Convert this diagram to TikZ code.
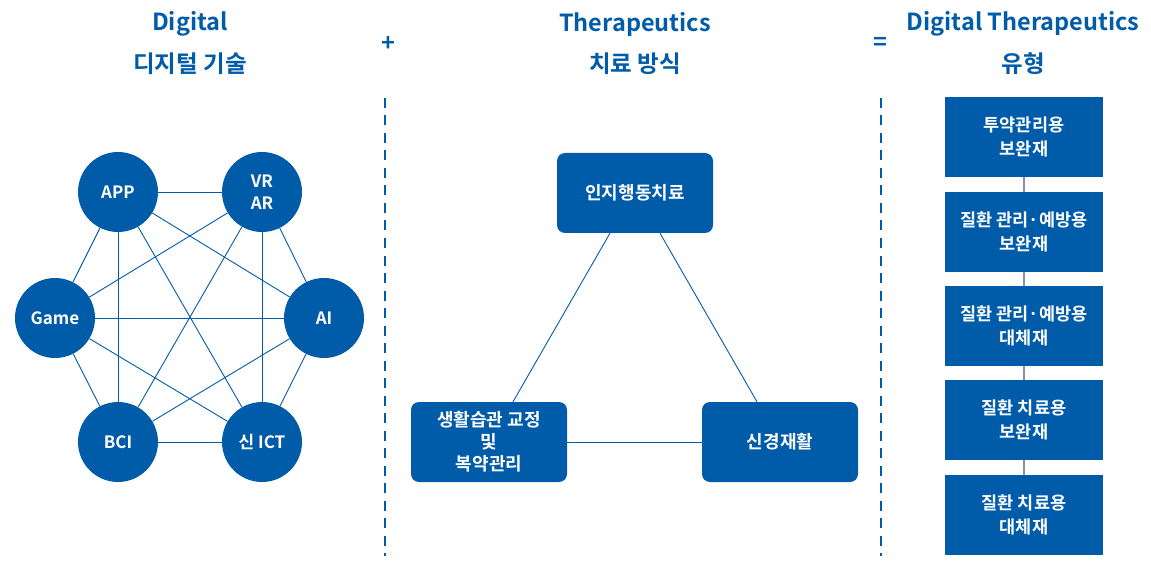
\documentclass[tikz,border=0pt]{standalone}
\usepackage{fontspec}
\setmainfont{Noto Sans CJK KR}[BoldFont={Noto Sans CJK KR Bold}]
\usetikzlibrary{positioning}
\definecolor{dtxblue}{RGB}{0,92,169}
\definecolor{dtxgray}{RGB}{122,150,180}

\begin{document}
\begin{tikzpicture}[x=1pt,y=-1pt,
    tech/.style={circle,fill=dtxblue,text=white,minimum size=80pt,inner sep=0pt,
      align=center,font=\bfseries\fontsize{17}{22}\selectfont},
    cure/.style={rectangle,rounded corners=8pt,fill=dtxblue,text=white,
      minimum width=156pt,minimum height=80pt,align=center,
      font=\bfseries\fontsize{18}{22}\selectfont},
    kind/.style={rectangle,fill=dtxblue,text=white,minimum width=158pt,
      minimum height=80pt,align=center,font=\bfseries\fontsize{17.5}{24}\selectfont},
    head/.style={text=dtxblue,font=\bfseries\fontsize{23.5}{28}\selectfont},
    link/.style={dtxblue,line width=0.9pt},
    sep/.style={dtxblue,line width=2pt,dash pattern=on 10pt off 7.5pt}]
  \useasboundingbox (0,0) rectangle (1151,580);

  % headings
  \node[head] (h1a) at (190,24) {Digital};
  \node[head] (h1b) at (190,64) {디지털 기술};
  \node[head] (h2a) at (635,24) {Therapeutics};
  \node[head] (h2b) at (635,64) {치료 방식};
  \node[head] (h3a) at (1023,24) {Digital Therapeutics};
  \node[head] (h3b) at (1023,64) {유형};
  \node[head] (plus) at (388,44) {+};
  \node[head] (eq) at (880,44) {=};

  % separators
  \coordinate (s1t) at (385,98);  \coordinate (s1b) at (385,556);
  \coordinate (s2t) at (881,98);  \coordinate (s2b) at (881,556);
  \draw[sep] (s1t) -- (s1b);
  \draw[sep] (s2t) -- (s2b);

  % digital technologies
  \node[tech] (app)  at (118,192) {APP};
  \node[tech] (vr)   at (262,192) {VR\\AR};
  \node[tech] (game) at (55,318)  {Game};
  \node[tech] (ai)   at (324,318) {AI};
  \node[tech] (bci)  at (118,442) {BCI};
  \node[tech] (ict)  at (262,442) {신 ICT};
  \foreach \a/\b in {app/vr,app/game,app/ai,app/bci,app/ict,
                     vr/game,vr/ai,vr/bci,vr/ict,
                     game/ai,game/bci,game/ict,
                     ai/bci,ai/ict,bci/ict}
    \draw[link] (\a) -- (\b);

  % therapy methods
  \node[cure] (cbt)   at (635,193) {인지행동치료};
  \node[cure] (habit) at (489,442) {생활습관 교정\\및\\복약관리};
  \node[cure] (rehab) at (780,442) {신경재활};
  \draw[link] ([xshift=-25pt]cbt.south) -- ([xshift=24pt]habit.north);
  \draw[link] ([xshift=25pt]cbt.south) -- ([xshift=-23pt]rehab.north);
  \draw[link] (habit) -- (rehab);

  % types
  \node[kind] (k1) at (1024,137) {투약관리용\\보완재};
  \node[kind] (k2) at (1024,232) {질환 관리·예방용\\보완재};
  \node[kind] (k3) at (1024,326) {질환 관리·예방용\\대체재};
  \node[kind] (k4) at (1024,420) {질환 치료용\\보완재};
  \node[kind] (k5) at (1024,515) {질환 치료용\\대체재};
  \foreach \a/\b in {k1/k2,k2/k3,k3/k4,k4/k5}
    \draw[dtxgray,line width=2pt] (\a) -- (\b);
\end{tikzpicture}
\end{document}
